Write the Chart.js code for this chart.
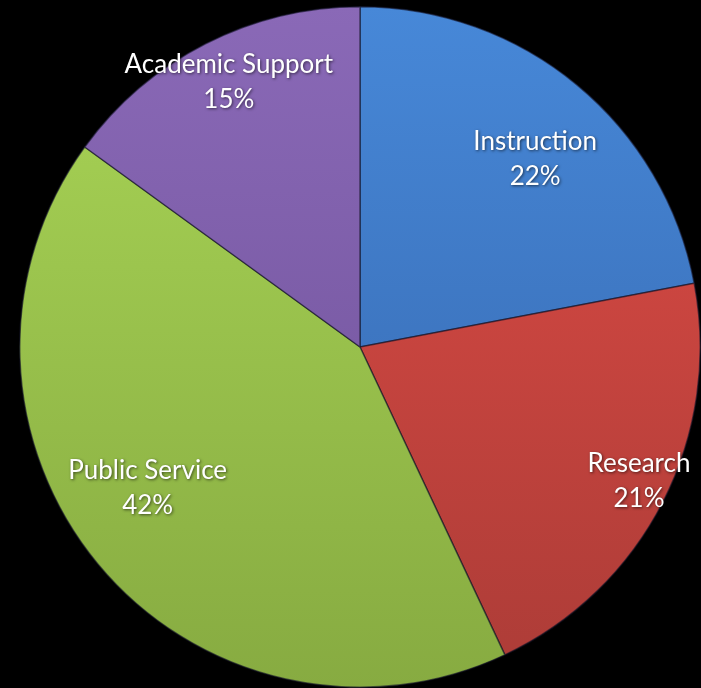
<!DOCTYPE html>
<html lang="en">
  <head>
    <meta charset="UTF-8" />
    <script src="https://cdn.jsdelivr.net/npm/chart.js"></script>
    <style>
      html,
      body {
        margin: 0;
        padding: 0;
        background: #000;
      }
      #wrap {
        width: 701px;
        height: 688px;
      }
    </style>
  </head>
  <body>
    <div id="wrap"><canvas id="pieChart"></canvas></div>

    <script>
      const categories = ["Instruction", "Research", "Public Service", "Academic Support"];
      const shares = [22, 21, 42, 15];
      const percentLabels = ["22%", "21%", "42%", "15%"];

      // light (top) / dark (bottom) tones for each slice
      const topColors = ["#4788d8", "#e04c46", "#a9d556", "#8a69b7"];
      const bottomColors = ["#3464aa", "#ac3c37", "#87ab41", "#6c4f96"];
      // label placement: fraction of radius and small angle tweak (deg)
      const labelRadius = [0.755, 0.91, 0.75, 0.87];
      const labelTurn = [3.4, -1.3, 5.9, 0.7];

      function sliceFill(context) {
        const chart = context.chart;
        const area = chart.chartArea;
        if (!area) return topColors[context.dataIndex];
        const g = chart.ctx.createLinearGradient(0, area.top, 0, area.bottom);
        g.addColorStop(0, topColors[context.dataIndex]);
        g.addColorStop(1, bottomColors[context.dataIndex]);
        return g;
      }

      const sliceLabels = {
        id: "sliceLabels",
        afterDatasetsDraw(chart) {
          const ctx = chart.ctx;
          const meta = chart.getDatasetMeta(0);
          ctx.save();
          ctx.font = "26px Lato";
          ctx.fillStyle = "#ffffff";
          ctx.textAlign = "center";
          ctx.textBaseline = "middle";
          ctx.shadowColor = "rgba(0,0,0,0.6)";
          ctx.shadowBlur = 3;
          ctx.shadowOffsetX = 1;
          ctx.shadowOffsetY = 1;
          meta.data.forEach((arc, i) => {
            const p = arc.getProps(["x", "y", "startAngle", "endAngle", "outerRadius"], true);
            const mid = (p.startAngle + p.endAngle) / 2 + (labelTurn[i] * Math.PI) / 180;
            const r = p.outerRadius * labelRadius[i];
            const x = p.x + Math.cos(mid) * r;
            const y = p.y + Math.sin(mid) * r;
            ctx.fillText(categories[i], x, y - 17.5);
            ctx.fillText(percentLabels[i], x, y + 17.5);
          });
          ctx.restore();
        },
      };

      const ctx = document.getElementById("pieChart").getContext("2d");
      const pieChart = new Chart(ctx, {
        type: "pie",
        data: {
          labels: categories,
          datasets: [
            {
              data: shares,
              backgroundColor: sliceFill,
              borderColor: "rgba(20,20,40,0.6)",
              borderWidth: 1.5,
            },
          ],
        },
        options: {
          responsive: true,
          maintainAspectRatio: false,
          animation: false,
          layout: {
            padding: { left: 19, right: 0, top: 6, bottom: 0 },
          },
          plugins: {
            legend: { display: false },
            tooltip: { enabled: false },
          },
        },
        plugins: [sliceLabels],
      });
    </script>
  </body>
</html>
